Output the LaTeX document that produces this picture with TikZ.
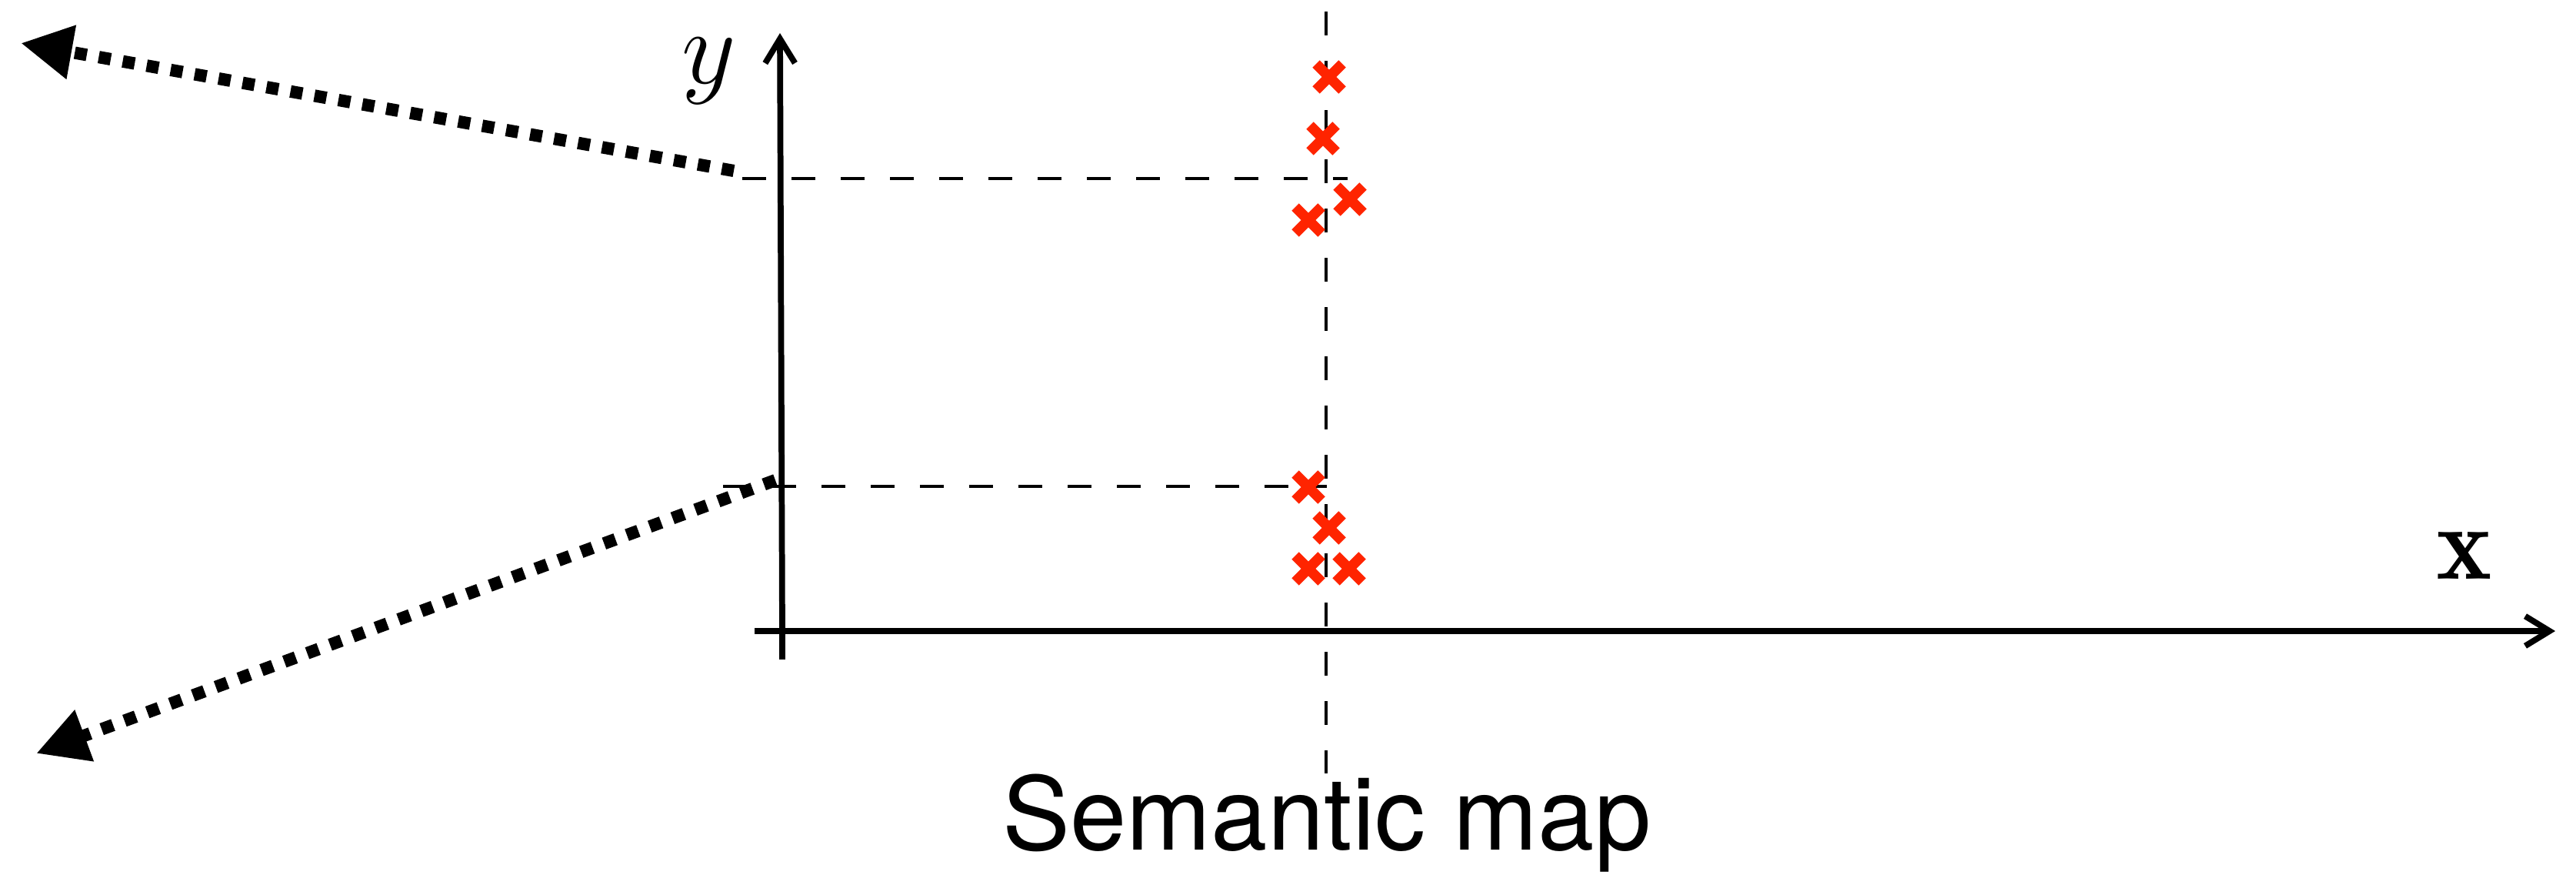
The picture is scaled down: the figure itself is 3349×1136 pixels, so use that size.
\RequirePackage{fix-cm}
\documentclass[tikz,border=0pt]{standalone}
\usepackage{fontspec}
\setsansfont{TeX Gyre Heros}
\usetikzlibrary{arrows.meta}
\definecolor{crossred}{RGB}{255,36,0}
\begin{document}
\begin{tikzpicture}[x=0.01cm,y=-0.01cm,
  axis/.style={line width=2.2pt,-{Straight Barb[length=9pt,width=11pt]}},
  guide/.style={line width=1.3pt,dash pattern=on 8.8pt off 9.4pt},
  dotarrow/.style={line width=4.6pt,dash pattern=on 4.5pt off 4.5pt,-{Triangle[length=19pt,width=19pt]}},
  cross/.style={crossred,line width=3.8pt},
  big/.style={font=\fontsize{39}{47}\selectfont}]
\useasboundingbox (0,0) rectangle (3349,1136);
\coordinate (o) at (1017,820);
\coordinate (ytop) at (1014,43);
\coordinate (ybot) at (1017,857);
\coordinate (xleft) at (981,820);
\coordinate (xright) at (3322,820);
\coordinate (hi) at (1014,232);
\coordinate (lo) at (1016,632);
\draw[guide] (1724,15) -- (1724,1005);
\draw[guide] (965,232) -- (1752,232);
\draw[guide] (940,632) -- (1725,632);
\draw[line width=2.2pt] (ybot) -- (o);
\draw[axis] (o) -- (ytop);
\draw[axis] (xleft) -- (xright);
\node[big,anchor=base] (ylab) at (922,108) {$y$};
\node[big,anchor=base] (xlab) at (3204,752) {$\mathbf{x}$};
\node[big,anchor=base,font=\fontsize{37.5}{45}\selectfont] (map) at (1725,1104) {\sffamily Semantic map};
\foreach \cx/\cy in {1728/100,1720/180,1755/259,1701/286,1701/633,1728/686,1701/739,1754/739}
  \draw[cross] (\cx-17,\cy-17) -- (\cx+17,\cy+17) (\cx-17,\cy+17) -- (\cx+17,\cy-17);
\coordinate (upend) at (27,56);
\coordinate (lowend) at (47,979);
\draw[dotarrow] ([xshift=-0.6cm,yshift=0.1cm]hi) -- (upend);
\draw[dotarrow] ([xshift=-0.08cm,yshift=0.08cm]lo) -- (lowend);
\end{tikzpicture}
\end{document}
